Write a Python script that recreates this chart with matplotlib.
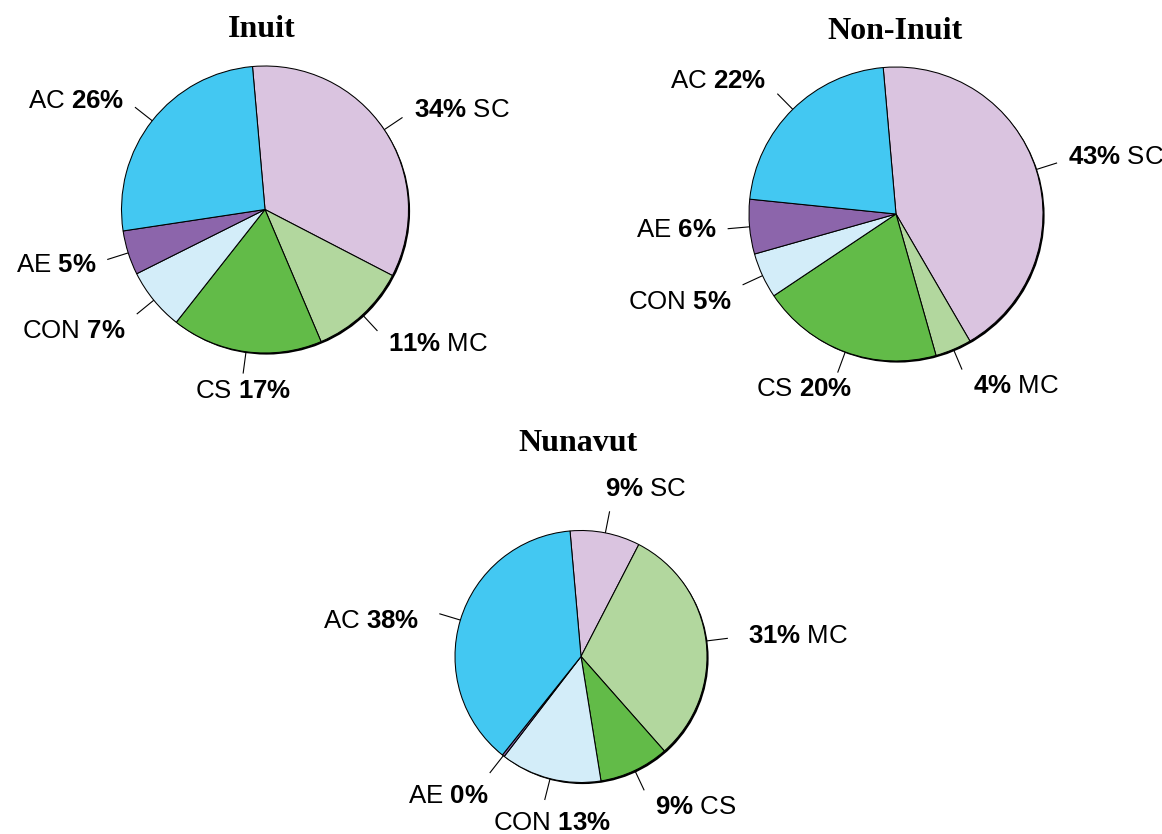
import numpy as np
import matplotlib
matplotlib.use("Agg")
import matplotlib.pyplot as plt
from matplotlib.patches import Circle

# Share of employment by sector group (%)
categories = ["SC", "MC", "CS", "CON", "AE", "AC"]
inuit = [34, 11, 17, 7, 5, 26]
non_inuit = [43, 4, 20, 5, 6, 22]
nunavut = [9, 31, 9, 13, 0.3, 38]
titles = ["Inuit", "Non-Inuit", "Nunavut"]

colors = ["#DAC4E0", "#B2D79E", "#62BB48", "#D3EDF9", "#8C65AB", "#43C8F2"]

plt.rcParams["font.family"] = ["Liberation Sans", "DejaVu Sans"]
plt.rcParams["mathtext.fontset"] = "custom"
plt.rcParams["mathtext.rm"] = "Liberation Sans"
plt.rcParams["mathtext.bf"] = "Liberation Sans:bold"
plt.rcParams["mathtext.it"] = "Liberation Sans:italic"

W, H = 1162, 834
fig = plt.figure(figsize=(W / 100, H / 100), dpi=100)
ax = fig.add_axes([0, 0, 1, 1])

# pie layout in pixel units (x from left, y from top)
panels = [
    dict(values=inuit, title=titles[0], center=(265, 209.5), radius=143.5,
         title_xy=(262, 29)),
    dict(values=non_inuit, title=titles[1], center=(896, 214), radius=147,
         title_xy=(895, 31)),
    dict(values=nunavut, title=titles[2], center=(581, 656.5), radius=126,
         title_xy=(578, 443)),
]

# hand nudges for individual labels (dx, dy) in pixels, y pointing down
nudges = {
    (0, "SC"): (0, 3), (0, "CON"): (0, 6), (0, "AC"): (0, 5),
    (1, "CS"): (26, 0), (1, "CON"): (0, 10),
    (2, "SC"): (36, -5), (2, "MC"): (9, 0), (2, "AE"): (10, 9),
    (2, "AC"): (-9, 12), (2, "CON"): (7, 6),
}

LEAD = 22      # leader line length
GAP = 11       # gap between leader end and text
DROP = 18      # vertical shift of text along the leader direction

for p_i, p in enumerate(panels):
    cx, cy_s = p["center"]
    cy = H - cy_s
    r = p["radius"]
    # drop shadow behind the pie
    ax.add_patch(Circle((cx + 1.6, cy - 1.6), r, facecolor="black",
                        edgecolor="none", zorder=1))
    wedges, _ = ax.pie(p["values"], colors=colors, startangle=95,
                       counterclock=False, center=(cx, cy), radius=r,
                       frame=True,
                       wedgeprops=dict(edgecolor="black", linewidth=0.75,
                                       zorder=2))
    for w in wedges:
        w.set_zorder(2)

    for w, cat, val in zip(wedges, categories, p["values"]):
        th = np.deg2rad((w.theta1 + w.theta2) / 2)
        c, s = np.cos(th), np.sin(th)
        x0, y0 = cx + r * c, cy + r * s
        x1, y1 = cx + (r + LEAD) * c, cy + (r + LEAD) * s
        ax.plot([x0, x1], [y0, y1], color="black", lw=0.8, zorder=3,
                solid_capstyle="butt")
        pct = r"$\mathbf{%d\%%}$" % round(val)
        if c > 0:
            label = f"{pct} {cat}"
        else:
            label = f"{cat} {pct}"
        if abs(c) < 0.3:
            ha, tx = "center", x1
        elif c > 0:
            ha, tx = "left", x1 + GAP
        else:
            ha, tx = "right", x1 - GAP
        ty = y1 + s * DROP
        dx, dy = nudges.get((p_i, cat), (0, 0))
        ax.text(tx + dx, ty - dy, label, ha=ha, va="center", fontsize=18.6,
                color="black", zorder=4)

    tx, ty = p["title_xy"]
    ax.text(tx, H - ty, p["title"], ha="center", va="center", fontsize=23,
            fontweight="bold", family="Liberation Serif", color="black")

ax.set_xlim(0, W)
ax.set_ylim(0, H)
ax.set_aspect("equal")
ax.axis("off")

fig.savefig("out.png", dpi=100, facecolor="white")
